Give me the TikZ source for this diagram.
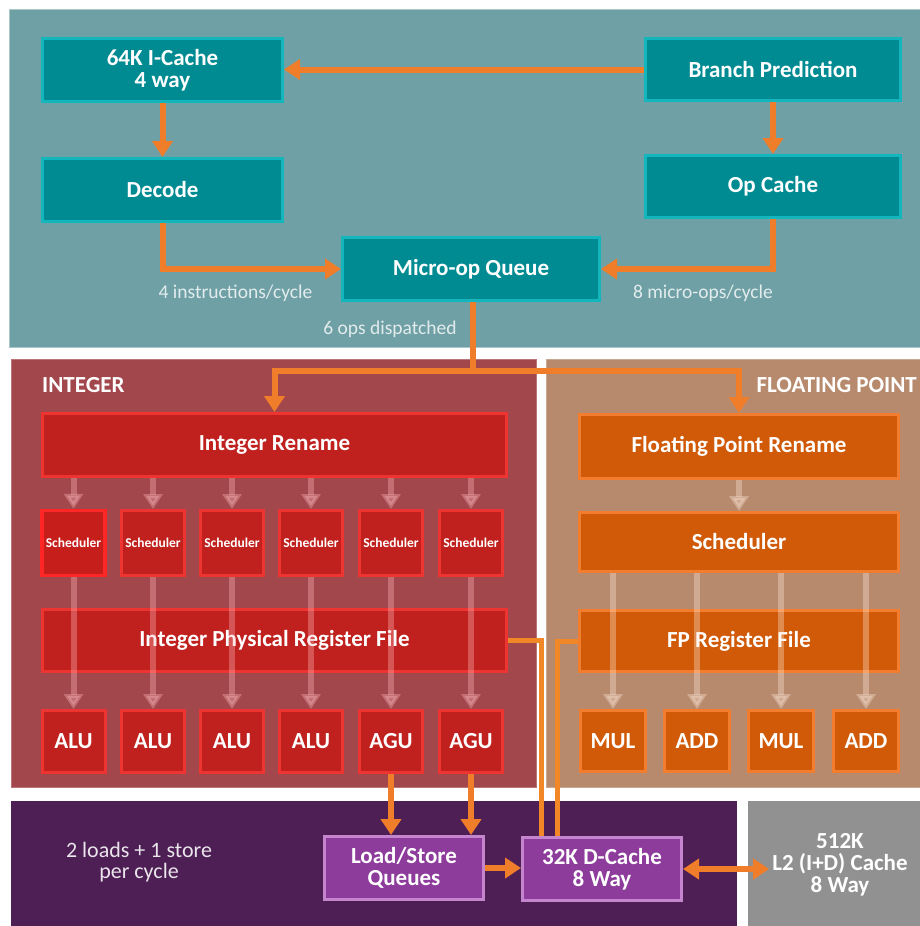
\documentclass[tikz,border=0pt]{standalone}
\usepackage{fontspec}
\setmainfont{Carlito}
\usetikzlibrary{arrows.meta}
\definecolor{toppanel}{RGB}{111,160,165}
\definecolor{tealfill}{RGB}{0,139,147}
\definecolor{tealline}{RGB}{20,182,190}
\definecolor{orng}{RGB}{240,125,42}
\definecolor{intpanel}{RGB}{162,71,75}
\definecolor{intfill}{RGB}{192,33,30}
\definecolor{intline}{RGB}{238,52,48}
\definecolor{fppanel}{RGB}{183,138,110}
\definecolor{fpfill}{RGB}{208,90,8}
\definecolor{fpline}{RGB}{242,125,46}
\definecolor{purppanel}{RGB}{77,31,85}
\definecolor{purpfill}{RGB}{142,60,156}
\definecolor{purpline}{RGB}{196,132,206}
\definecolor{greypanel}{RGB}{145,145,145}
\definecolor{lbltext}{RGB}{226,236,237}
\definecolor{intlight}{RGB}{255,185,190}
\definecolor{fplight}{RGB}{255,232,215}
\newcommand\ttlfont{\fontsize{23}{22}\selectfont\bfseries}
\newcommand\lblfont{\fontsize{19.5}{21}\selectfont}
\newcommand\schfont{\fontsize{13.5}{13}\selectfont\bfseries}
\tikzset{
  box/.style={draw, line width=3pt, inner sep=0pt, align=center, text=white, font=\ttlfont},
  tealbox/.style={box, fill=tealfill, draw=tealline},
  intbox/.style={box, fill=intfill, draw=intline},
  fpbox/.style={box, fill=fpfill, draw=fpline},
  purpbox/.style={box, fill=purpfill, draw=purpline},
  schbox/.style={intbox, font=\schfont, minimum width=63pt, minimum height=65pt},
  unitbox/.style={intbox, minimum width=63pt, minimum height=62pt},
  fpunit/.style={fpbox, minimum width=65pt, minimum height=61pt},
  oarr/.style={draw=orng, line width=6pt, -{Triangle[width=20pt,length=16pt]}},
  olink/.style={draw=orng!92!yellow, line width=5pt},
  larr/.style={draw opacity=0.35, fill opacity=0.35, line width=6pt, -{Triangle[width=19pt,length=15pt]}},
  ilarr/.style={larr, draw=intlight},
  flarr/.style={larr, draw=fplight},
  lbl/.style={text=lbltext, font=\lblfont, inner sep=0pt},
  panel/.style={line width=1pt},
}
\begin{document}
\begin{tikzpicture}[x=1pt,y=-1pt]
\useasboundingbox (0,0) rectangle (920,926);
\fill[white] (0,0) rectangle (920,926);
% panels
\filldraw[panel, fill=toppanel, draw=toppanel!60!white] (9,9) rectangle (921,347);
\filldraw[panel, fill=intpanel, draw=intpanel!75!white] (11,359) rectangle (536,787);
\filldraw[panel, fill=fppanel, draw=fppanel!75!white] (546,359) rectangle (921,787);
\fill[purppanel] (11,801) rectangle (737,927);
\fill[greypanel] (748,801) rectangle (921,927);

% top boxes
\node[tealbox, minimum width=240pt, minimum height=63pt] (icache) at (162.5,70) {64K I-Cache\\4 way};
\node[tealbox, minimum width=240pt, minimum height=63pt] (decode) at (162.5,190) {Decode};
\node[tealbox, minimum width=255pt, minimum height=62pt] (branch) at (773,69.5) {Branch Prediction};
\node[tealbox, minimum width=255pt, minimum height=62pt] (opcache) at (773,186.5) {Op Cache};
\node[tealbox, minimum width=257pt, minimum height=63pt] (muq) at (471,269) {Micro-op Queue};

\draw[oarr] (branch.west) -- (branch.west -| icache.east);
\draw[oarr] (icache.south) -- (decode.north);
\draw[oarr] (branch.south) -- (opcache.north);
\draw[oarr] (decode.south) |- (muq.west);
\draw[oarr] (opcache.south) |- (muq.east);

\node[lbl] (l4i) at (235.5,293) {4 instructions/cycle};
\node[lbl] (l8m) at (703,293) {8 micro-ops/cycle};
\node[lbl] (l6o) at (390,329) {6 ops dispatched};

% integer
\node[text=white, font=\ttlfont, anchor=west, inner sep=0pt] (intlbl) at (42,385) {INTEGER};
\node[intbox, minimum width=464pt, minimum height=63pt] (intren) at (274.5,445) {Integer Rename};
\node[schbox, draw=red!85!white, fill=intfill!90!red, line width=3.5pt] (s1) at (73.5,543) {Scheduler};
\node[schbox] (s2) at (153,543) {Scheduler};
\node[schbox] (s3) at (232,543) {Scheduler};
\node[schbox] (s4) at (311,543) {Scheduler};
\node[schbox] (s5) at (391,543) {Scheduler};
\node[schbox] (s6) at (471,543) {Scheduler};
\node[intbox, minimum width=464pt, minimum height=62pt] (intprf) at (274.5,640.5) {Integer Physical Register File};
\node[unitbox] (a1) at (73.5,741.5) {ALU};
\node[unitbox] (a2) at (153,741.5) {ALU};
\node[unitbox] (a3) at (232,741.5) {ALU};
\node[unitbox] (a4) at (311,741.5) {ALU};
\node[unitbox] (a5) at (391,741.5) {AGU};
\node[unitbox] (a6) at (471,741.5) {AGU};
\foreach \i in {1,...,6} {
  \draw[ilarr] (intren.south -| s\i.north) -- (s\i.north);
  \draw[ilarr] (s\i.south) -- (a\i.north);
}

% floating point
\node[text=white, font=\ttlfont, anchor=east, inner sep=0pt] (fplbl) at (917,385) {FLOATING POINT};
\node[fpbox, minimum width=319pt, minimum height=64pt] (fpren) at (739,446.5) {Floating Point Rename};
\node[fpbox, minimum width=319pt, minimum height=59pt] (fpsched) at (739,542) {Scheduler};
\node[fpbox, minimum width=319pt, minimum height=61pt] (fprf) at (739,641) {FP Register File};
\node[fpunit] (u1) at (613,741) {MUL};
\node[fpunit] (u2) at (697,741) {ADD};
\node[fpunit] (u3) at (781,741) {MUL};
\node[fpunit] (u4) at (866,741) {ADD};
\draw[flarr] (fpren.south) -- (fpsched.north);
\foreach \i in {1,...,4} {
  \draw[flarr] (fpsched.south -| u\i.north) -- (u\i.north);
}

% dispatch
\coordinate (split) at (473,371);
\draw[olink, draw=orng, line width=6pt] (muq.south -| split) -- (split);
\draw[oarr] (split) -| (intren.north);
\draw[oarr] (split) -| (fpren.north);

% bottom
\node[purpbox, minimum width=159pt, minimum height=63pt] (lsq) at (404,868) {Load/Store\\Queues};
\node[purpbox, minimum width=159pt, minimum height=63pt] (dcache) at (602,869) {32K D-Cache\\8 Way};
\node[text=white, font=\ttlfont, align=center, inner sep=3pt] (l2) at (840,865) {512K\\L2 (I+D) Cache\\8 Way};
\node[text=white!88!purppanel, font=\fontsize{22}{21}\selectfont, align=center, inner sep=0pt] (ldst) at (139,862) {2 loads + 1 store\\per cycle};

\draw[oarr] (a5.south) -- (a5.south |- lsq.north);
\draw[oarr] (a6.south) -- (a6.south |- lsq.north);
\draw[oarr] (lsq.east) -- (lsq.east -| dcache.west);
\draw[draw=orng, line width=6pt, {Triangle[width=20pt,length=16pt]}-{Triangle[width=20pt,length=16pt]}] (dcache.east) -- (dcache.east -| l2.west);
\draw[olink] (intprf.east) -| ([xshift=-61pt]dcache.north);
\draw[olink] (fprf.west) -| ([xshift=-45pt]dcache.north);
\end{tikzpicture}
\end{document}
